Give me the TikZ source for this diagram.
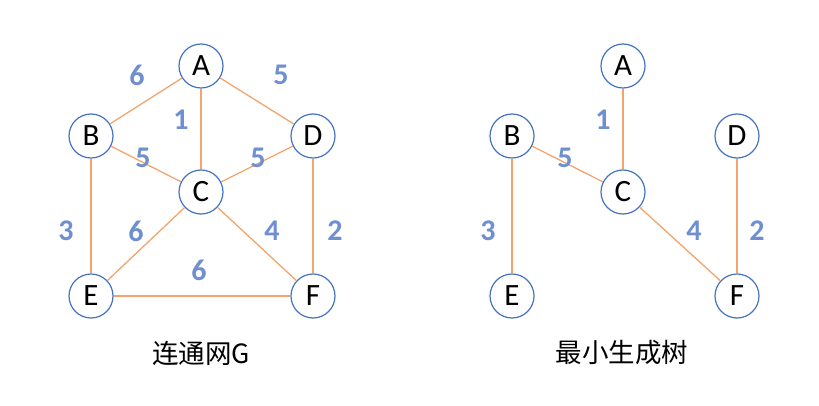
\documentclass[tikz,border=0pt]{standalone}
\usepackage{fontspec}
\setmainfont{Carlito}
\newfontfamily\cjk{Noto Sans CJK SC}
\definecolor{nodeblue}{HTML}{4472C4}
\definecolor{edgeorange}{HTML}{F4A46A}
\definecolor{numblue}{HTML}{6F8FD0}
\tikzset{
  vert/.style={circle, draw=nodeblue, line width=1.2pt, fill=white, minimum size=44pt, inner sep=0pt, font=\fontsize{31}{31}\selectfont},
  edge/.style={draw=edgeorange, line width=1.3pt},
  wt/.style={text=numblue, font=\fontsize{30}{30}\selectfont\bfseries},
  captext/.style={font=\fontsize{26.5}{26.5}\selectfont\cjk}
}
\begin{document}
\begin{tikzpicture}[x=1pt,y=1pt]
\useasboundingbox (0,0) rectangle (819,405);
% left graph
\node[vert] (LA) at (201,339) {A};
\node[vert] (LB) at (91,269) {B};
\node[vert] (LC) at (201,213) {C};
\node[vert] (LD) at (313,269) {D};
\node[vert] (LE) at (91,109) {E};
\node[vert] (LF) at (313,109) {F};
\draw[edge] (LA) -- (LB);
\draw[edge] (LA) -- (LD);
\draw[edge] (LA) -- (LC);
\draw[edge] (LB) -- (LC);
\draw[edge] (LD) -- (LC);
\draw[edge] (LB) -- (LE);
\draw[edge] (LD) -- (LF);
\draw[edge] (LC) -- (LE);
\draw[edge] (LC) -- (LF);
\draw[edge] (LE) -- (LF);
\node[wt] (w1) at (137,330) {6};
\node[wt] (w2) at (281,330) {5};
\node[wt] (w3) at (181,285) {1};
\node[wt] (w4) at (143,247) {5};
\node[wt] (w5) at (258,247) {5};
\node[wt] (w6) at (66,174) {3};
\node[wt] (w7) at (136,174) {6};
\node[wt] (w8) at (272,174) {4};
\node[wt] (w9) at (335,174) {2};
\node[wt] (w10) at (199,135) {6};
\node[captext] (capL) at (201,52) {连通网G};
% right graph
\node[vert] (RA) at (623,339) {A};
\node[vert] (RB) at (512,269) {B};
\node[vert] (RC) at (623,213) {C};
\node[vert] (RD) at (737,269) {D};
\node[vert] (RE) at (512,109) {E};
\node[vert] (RF) at (737,109) {F};
\draw[edge] (RA) -- (RC);
\draw[edge] (RB) -- (RC);
\draw[edge] (RB) -- (RE);
\draw[edge] (RC) -- (RF);
\draw[edge] (RD) -- (RF);
\node[wt] (r1) at (603,285) {1};
\node[wt] (r2) at (565,247) {5};
\node[wt] (r3) at (488,174) {3};
\node[wt] (r4) at (694,174) {4};
\node[wt] (r5) at (757,174) {2};
\node[captext] (capR) at (622,52) {最小生成树};
\end{tikzpicture}
\end{document}
